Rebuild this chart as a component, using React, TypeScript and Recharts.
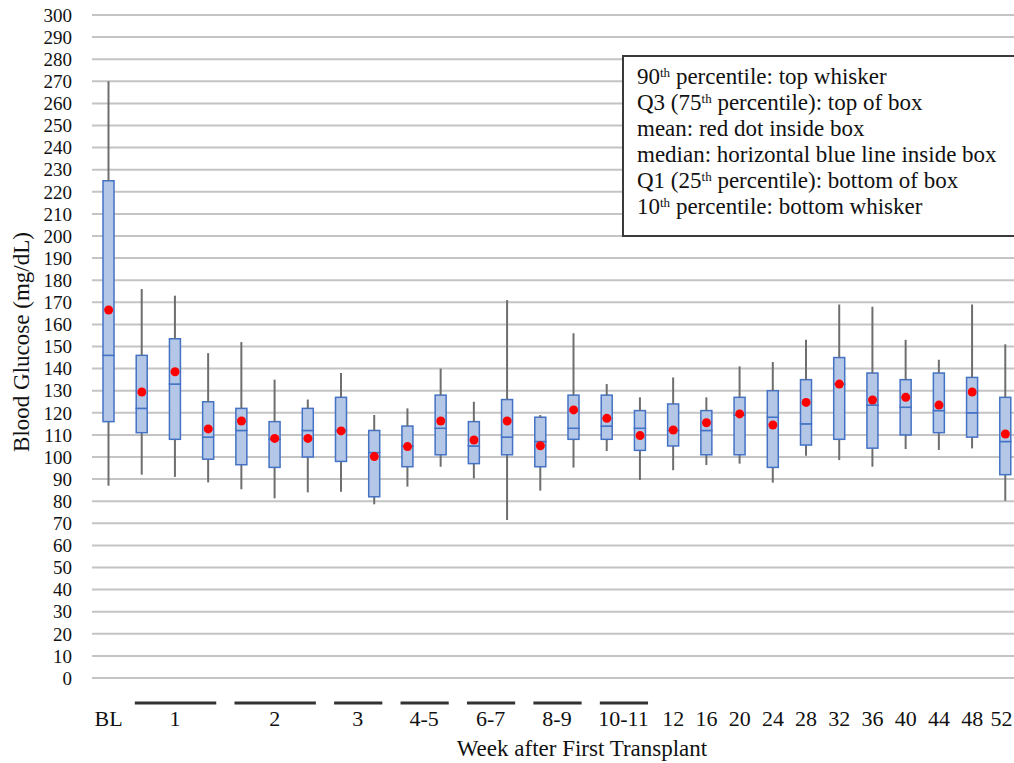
import React from "react";
import {
  ComposedChart,
  Bar,
  Line,
  XAxis,
  YAxis,
  CartesianGrid,
} from "recharts";

// x axis: baseline, grouped weeks (several boxes under one label), then single weeks
const groupLabels = ["1", "2", "3", "4-5", "6-7", "8-9", "10-11"];
const groupSizes = [3, 3, 2, 2, 2, 2, 2];
const singleLabels = ["12", "16", "20", "24", "28", "32", "36", "40", "44", "48", "52"];

// blood glucose (mg/dL), one value per box, left to right
const p90 = [270, 176, 173, 147, 152, 135, 126, 138, 119, 122, 140, 125, 171, 119, 156, 133, 127, 136, 127, 141, 143, 153, 169, 168, 153, 144, 169, 151];
const q3 = [225, 146, 153.5, 125, 122, 116, 122, 127, 112, 114, 128, 116, 126, 118, 128, 128, 121, 124, 121, 127, 130, 135, 145, 138, 135, 138, 136, 127];
const median = [146, 122, 133, 109, 112, 108, 112, 112, 102, 105, 113, 105, 109, 107, 113, 114, 113, 112, 112, 119, 118, 115, 133, 123.5, 122.5, 121, 120, 107];
const q1 = [116, 111, 108, 99, 96.5, 95.3, 100, 98, 82, 95.6, 101, 97, 101, 95.6, 108, 108, 103, 105, 101, 101, 95.3, 105.4, 108, 104, 110, 111, 109, 92];
const p10 = [87, 92, 91, 88.5, 85.4, 81.3, 84, 84.3, 78.6, 86.6, 95.6, 90.3, 71.5, 84.8, 95.2, 102.7, 89.6, 94, 96.4, 97, 88.4, 100.6, 98.6, 95.6, 103.6, 103.2, 103.9, 80.2];
const mean = [166.5, 129.4, 138.6, 112.7, 116.3, 108.4, 108.4, 111.8, 100.2, 104.7, 116.3, 107.7, 116.3, 105.1, 121.3, 117.5, 109.7, 112.2, 115.5, 119.5, 114.5, 124.7, 133, 125.8, 127, 123.5, 129.4, 110.4];

const yTicks = Array.from({ length: 31 }, (_, i) => i * 10);

// one entry per box: what to print under it
type TickInfo = { key: string; label: string; span: number };
const tickInfo: TickInfo[] = [{ key: "BL", label: "BL", span: 0 }];
groupLabels.forEach((g, gi) => {
  for (let k = 0; k < groupSizes[gi]; k++) {
    tickInfo.push({ key: `${g}-${k}`, label: k === 0 ? g : "", span: k === 0 ? groupSizes[gi] : -1 });
  }
});
singleLabels.forEach((s) => tickInfo.push({ key: s, label: s, span: 0 }));

const data = tickInfo.map((t, i) => ({
  week: t.key,
  base: p10[i],
  lowWhisker: q1[i] - p10[i],
  lowBox: median[i] - q1[i],
  highBox: q3[i] - median[i],
  highWhisker: p90[i] - q3[i],
  mean: mean[i],
}));

const FONT = "Liberation Serif, Tinos, DejaVu Serif, serif";
const CHART_W = 1022;
const Y_AXIS_W = 92;
const BAND = (CHART_W - Y_AXIS_W) / data.length;

const Whisker = (p: any) => (
  <line
    x1={p.x + p.width / 2}
    x2={p.x + p.width / 2}
    y1={p.y}
    y2={p.y + p.height}
    stroke="#6e6e6e"
    strokeWidth={2}
  />
);

const BoxPart = (p: any) => (
  <rect
    x={p.x}
    y={p.y}
    width={p.width}
    height={p.height}
    fill="#B4C7E7"
    stroke="#4472C4"
    strokeWidth={1.5}
  />
);

const txt = { fontSize: 22, fontFamily: FONT, fill: "#111" };
const titleTxt = { ...txt, fontSize: 23 };
const yTickTxt = { ...txt, fontSize: 19 };

const WeekTick = (props: any) => {
  const { x, y, payload } = props;
  const t = tickInfo[payload.index];
  if (!t || t.span < 0) return <g />;
  if (t.span > 0) {
    const last = x + (t.span - 1) * BAND;
    return (
      <g>
        <line x1={x - 7} x2={last + 8} y1={y + 25} y2={y + 25} stroke="#333" strokeWidth={3} />
        <text x={(x + last) / 2} y={y + 40} textAnchor="middle" dominantBaseline="central" style={txt}>
          {t.label}
        </text>
      </g>
    );
  }
  // the last label sits a little left of its box in the original
  const shift = payload.index === tickInfo.length - 1 ? -4 : 0;
  return (
    <text x={x + shift} y={y + 40} textAnchor="middle" dominantBaseline="central" style={txt}>
      {t.label}
    </text>
  );
};

const Sup = ({ children }: { children: React.ReactNode }) => (
  <sup style={{ fontSize: 13, lineHeight: 0, verticalAlign: "7px" }}>{children}</sup>
);

const App: React.FC = () => {
  return (
    <div
      style={{
        position: "absolute",
        left: 0,
        top: 0,
        width: 1014,
        height: 763,
        overflow: "hidden",
        background: "#fff",
        fontFamily: FONT,
      }}
    >
      <ComposedChart
        width={CHART_W}
        height={763}
        data={data}
        margin={{ top: 15, right: 0, bottom: 0, left: 0 }}
      >
        <CartesianGrid vertical={false} stroke="#c4c4c4" strokeWidth={2} />
        <XAxis
          dataKey="week"
          axisLine={false}
          tickLine={false}
          tickSize={0}
          tickMargin={0}
          interval={0}
          height={85}
          tick={WeekTick}
          label={() => (
            <text x={582} y={748} textAnchor="middle" dominantBaseline="central" style={titleTxt}>
              Week after First Transplant
            </text>
          )}
        />
        <YAxis
          width={Y_AXIS_W}
          domain={[0, 300]}
          ticks={yTicks}
          interval={0}
          axisLine={false}
          tickLine={false}
          tickSize={0}
          tickMargin={20}
          tick={yTickTxt}
          label={() => (
            <text
              x={21}
              y={342}
              transform="rotate(-90 21 342)"
              textAnchor="middle"
              dominantBaseline="central"
              style={titleTxt}
            >
              Blood Glucose (mg/dL)
            </text>
          )}
        />
        <Bar dataKey="base" stackId="box" barSize={11} fill="transparent" isAnimationActive={false} />
        <Bar dataKey="lowWhisker" stackId="box" barSize={11} shape={Whisker} isAnimationActive={false} />
        <Bar dataKey="lowBox" stackId="box" barSize={11} shape={BoxPart} isAnimationActive={false} />
        <Bar dataKey="highBox" stackId="box" barSize={11} shape={BoxPart} isAnimationActive={false} />
        <Bar dataKey="highWhisker" stackId="box" barSize={11} shape={Whisker} isAnimationActive={false} />
        <Line
          dataKey="mean"
          stroke="none"
          isAnimationActive={false}
          activeDot={false}
          dot={{ r: 4.5, fill: "#FF0000", stroke: "none" }}
        />
      </ComposedChart>
      <div
        style={{
          position: "absolute",
          left: 622,
          top: 55,
          width: 400,
          height: 182,
          border: "2px solid #3a3a3a",
          background: "#fff",
          boxSizing: "border-box",
          padding: "7px 0 0 13px",
          fontSize: 23,
          lineHeight: "26px",
          color: "#111",
          whiteSpace: "nowrap",
        }}
      >
        <div>90<Sup>th</Sup> percentile: top whisker</div>
        <div>Q3 (75<Sup>th</Sup> percentile): top of box</div>
        <div>mean: red dot inside box</div>
        <div>median: horizontal blue line inside box</div>
        <div>Q1 (25<Sup>th</Sup> percentile): bottom of box</div>
        <div>10<Sup>th</Sup> percentile: bottom whisker</div>
      </div>
    </div>
  );
};

export default App;
